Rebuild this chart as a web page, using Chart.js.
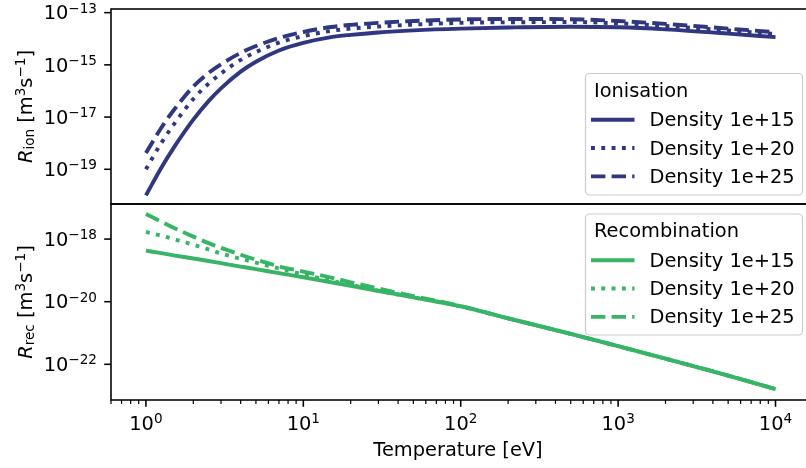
<!DOCTYPE html>
<html lang="en">
<head>
<meta charset="UTF-8">
<title>Ionisation and recombination rates</title>
<script src="https://cdn.jsdelivr.net/npm/chart.js"></script>
<style>
  body { margin: 0; background: #fff; }
  #wrap { position: relative; width: 806px; height: 468px; overflow: hidden; }
  #wrap canvas { position: absolute; left: 0; top: 0; }
</style>
</head>
<body>
<div id="wrap">
  <canvas id="ionChart" width="808" height="468"></canvas>
  <canvas id="recChart" width="808" height="468"></canvas>
</div>
<script>
// temperature grid [eV]
const temperature = [1, 1.25, 1.5, 2, 2.5, 3, 4, 5, 7, 10, 15, 20, 30, 50, 100, 200, 500, 1000, 2000, 5000, 10000];

// ionisation rate [m^3 s^-1]
const ionDens15 = [1.0e-20, 1.12e-19, 6.61e-19, 7.94e-18, 4.07e-17, 1.26e-16, 5.5e-16, 1.32e-15, 3.55e-15, 6.92e-15, 1.15e-14, 1.41e-14, 1.74e-14, 2.09e-14, 2.45e-14, 2.69e-14, 2.88e-14, 2.75e-14, 2.29e-14, 1.58e-14, 1.15e-14];
const ionDens20 = [1.0e-19, 1.0e-18, 5.13e-18, 4.9e-17, 1.91e-16, 4.68e-16, 1.55e-15, 3.09e-15, 7.08e-15, 1.26e-14, 2.0e-14, 2.45e-14, 2.95e-14, 3.47e-14, 4.07e-14, 4.27e-14, 4.37e-14, 3.89e-14, 3.09e-14, 2.09e-14, 1.51e-14];
const ionDens25 = [4.17e-19, 3.8e-18, 1.82e-17, 1.48e-16, 4.9e-16, 1.05e-15, 2.88e-15, 5.25e-15, 1.07e-14, 1.82e-14, 2.82e-14, 3.39e-14, 4.07e-14, 4.79e-14, 5.5e-14, 5.75e-14, 5.62e-14, 4.79e-14, 3.72e-14, 2.45e-14, 1.78e-14];

// recombination rate [m^3 s^-1]
const recDens15 = [4.27e-19, 3.55e-19, 3.02e-19, 2.4e-19, 2.0e-19, 1.7e-19, 1.32e-19, 1.1e-19, 8.13e-20, 6.03e-20, 4.17e-20, 3.24e-20, 2.19e-20, 1.38e-20, 7.08e-21, 2.95e-21, 9.33e-22, 3.8e-22, 1.51e-22, 4.37e-23, 1.62e-23];
const recDens20 = [1.7e-18, 1.29e-18, 1.0e-18, 6.61e-19, 4.68e-19, 3.47e-19, 2.34e-19, 1.78e-19, 1.15e-19, 7.41e-20, 4.68e-20, 3.47e-20, 2.24e-20, 1.38e-20, 7.08e-21, 2.95e-21, 9.33e-22, 3.8e-22, 1.51e-22, 4.37e-23, 1.62e-23];
const recDens25 = [6.31e-18, 3.63e-18, 2.29e-18, 1.2e-18, 7.41e-19, 5.25e-19, 3.16e-19, 2.19e-19, 1.35e-19, 9.12e-20, 5.89e-20, 4.17e-20, 2.63e-20, 1.51e-20, 7.24e-21, 2.95e-21, 9.33e-22, 3.8e-22, 1.51e-22, 4.37e-23, 1.62e-23];

const seriesLabels = ['Density 1e+15', 'Density 1e+20', 'Density 1e+25'];

// tick positions (powers of ten)
const xTickExps = [0, 1, 2, 3, 4];
const ionTickExps = [-19, -17, -15, -13];
const recTickExps = [-22, -20, -18];

const ionColor = '#2f3780';
const recColor = '#37b466';
const dashStyles = [[], [3.9, 6.4], [14.4, 6.2]];

const FONT = '"DejaVu Sans"';
const BASE = 19.4, SMALL = 13.6;

function fontFor(p) {
  return (p.italic ? 'italic ' : '') + p.size + 'px ' + FONT;
}

function drawRun(ctx, parts, x, y, align) {
  let w = 0;
  for (const p of parts) { ctx.font = fontFor(p); w += ctx.measureText(p.text).width; }
  let cx = align === 'right' ? x - w : align === 'center' ? x - w / 2 : x;
  ctx.textAlign = 'left';
  ctx.textBaseline = 'alphabetic';
  for (const p of parts) {
    ctx.font = fontFor(p);
    ctx.fillText(p.text, cx, y + (p.dy || 0));
    cx += ctx.measureText(p.text).width;
  }
}

function pow10(n) {
  return [
    { text: '10', size: BASE },
    { text: (n < 0 ? '\u2212' : '') + Math.abs(n), size: SMALL, dy: -6.8 }
  ];
}

function seg(ctx, x1, y1, x2, y2) {
  ctx.beginPath(); ctx.moveTo(x1, y1); ctx.lineTo(x2, y2); ctx.stroke();
}

function panelPlugin(cfg) {
  return {
    id: 'panel',
    afterDraw(chart) {
      const ctx = chart.ctx, a = chart.chartArea;
      const xs = chart.scales.x, ys = chart.scales.y;
      ctx.save();
      ctx.strokeStyle = '#000';
      ctx.fillStyle = '#000';

      // y ticks + labels
      ctx.lineWidth = 1.56;
      for (const e of cfg.yExps) {
        const py = ys.getPixelForValue(Math.pow(10, e));
        seg(ctx, a.left - 6.8, py, a.left, py);
        drawRun(ctx, pow10(e), a.left - 14, py + 6.8, 'right');
      }

      // x axis (bottom panel only)
      if (cfg.xAxis) {
        for (const e of xTickExps) {
          const px = xs.getPixelForValue(Math.pow(10, e));
          ctx.lineWidth = 1.56;
          seg(ctx, px, a.bottom, px, a.bottom + 6.8);
          drawRun(ctx, pow10(e), px, 430, 'center');
        }
        ctx.lineWidth = 1.2;
        for (let e = -1; e <= 4; e++) {
          for (let m = 2; m <= 9; m++) {
            const v = m * Math.pow(10, e);
            if (v < xs.min || v > xs.max) continue;
            const px = xs.getPixelForValue(v);
            seg(ctx, px, a.bottom, px, a.bottom + 3.9);
          }
        }
        drawRun(ctx, [{ text: 'Temperature [eV]', size: BASE }], 458, 456, 'center');
      }

      // frame
      ctx.lineWidth = 1.56;
      ctx.strokeRect(a.left, a.top, a.right - a.left, a.bottom - a.top);

      // rotated y label
      ctx.save();
      ctx.translate(31.7, (a.top + a.bottom) / 2);
      ctx.rotate(-Math.PI / 2);
      drawRun(ctx, [
        { text: 'R', italic: true, size: BASE },
        { text: cfg.sub, size: SMALL, dy: 2.5 },
        { text: ' [m', size: BASE },
        { text: '3', size: SMALL, dy: -6.8 },
        { text: 's', size: BASE },
        { text: '\u22121', size: SMALL, dy: -6.8 },
        { text: ']', size: BASE }
      ], 0, 0, 'center');
      ctx.restore();

      // legend
      const b = cfg.box;
      ctx.beginPath();
      ctx.roundRect(b.x, b.y, b.w, b.h, 4);
      ctx.fillStyle = 'rgba(255,255,255,0.8)';
      ctx.fill();
      ctx.strokeStyle = '#cccccc';
      ctx.lineWidth = 1.2;
      ctx.stroke();
      ctx.fillStyle = '#000';
      drawRun(ctx, [{ text: cfg.title, size: BASE }], b.x + 8.5, b.y + 23.4, 'left');
      const rows = [52.7, 81, 109.4];
      rows.forEach((dy, i) => {
        const by = b.y + dy;
        ctx.strokeStyle = cfg.color;
        ctx.lineWidth = 3.9;
        ctx.lineCap = 'butt';
        ctx.setLineDash(dashStyles[i]);
        seg(ctx, b.x + 5.5, by - 6.5, b.x + 49, by - 6.5);
        ctx.setLineDash([]);
        drawRun(ctx, [{ text: seriesLabels[i], size: BASE }], b.x + 64, by, 'left');
      });
      ctx.restore();
    }
  };
}

function buildDatasets(series, color) {
  return series.map((vals, i) => ({
    label: seriesLabels[i],
    data: temperature.map((t, j) => ({ x: t, y: vals[j] })),
    borderColor: color,
    borderWidth: 3.9,
    borderDash: dashStyles[i],
    borderCapStyle: 'butt',
    cubicInterpolationMode: 'monotone',
    pointRadius: 0,
    fill: false
  }));
}

function makeChart(id, datasets, yMin, yMax, padding, plugin) {
  return new Chart(document.getElementById(id), {
    type: 'line',
    data: { datasets },
    options: {
      responsive: false,
      animation: false,
      devicePixelRatio: 1,
      layout: { padding },
      scales: {
        x: { type: 'logarithmic', min: 0.631, max: 15849, display: false },
        y: { type: 'logarithmic', min: yMin, max: yMax, display: false }
      },
      plugins: { legend: { display: false }, tooltip: { enabled: false } }
    },
    plugins: [plugin]
  });
}

makeChart('ionChart', buildDatasets([ionDens15, ionDens20, ionDens25], ionColor),
  4.68e-21, 1.38e-13, { left: 111, right: 1, top: 9, bottom: 264 },
  panelPlugin({ yExps: ionTickExps, xAxis: false, sub: 'ion', title: 'Ionisation', color: ionColor,
    box: { x: 585.5, y: 73.5, w: 217, h: 121.5 } }));

makeChart('recChart', buildDatasets([recDens15, recDens20, recDens25], recColor),
  7.24e-24, 1.32e-17, { left: 111, right: 1, top: 204, bottom: 68 },
  panelPlugin({ yExps: recTickExps, xAxis: true, sub: 'rec', title: 'Recombination', color: recColor,
    box: { x: 585.5, y: 214, w: 217, h: 121 } }));
</script>
</body>
</html>
